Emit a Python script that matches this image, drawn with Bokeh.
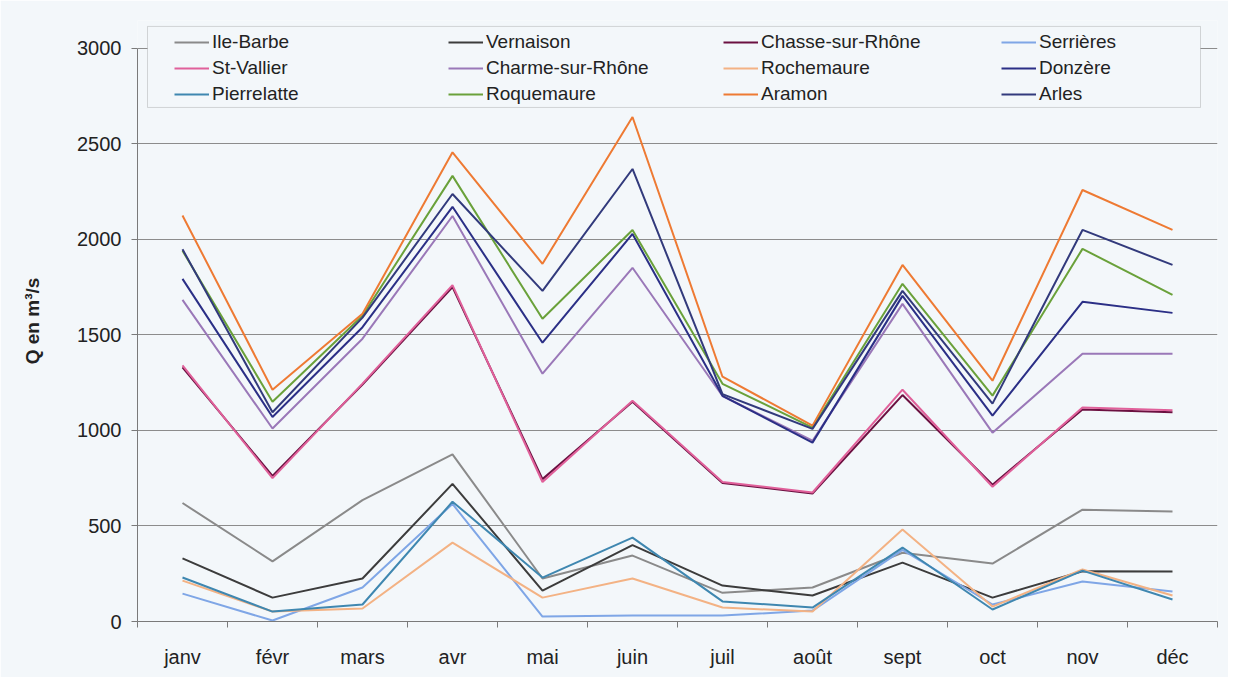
from bokeh.plotting import figure
from bokeh.models import Range1d, FixedTicker, Legend, LegendItem, BoxAnnotation
from bokeh.embed import file_html
from bokeh.resources import INLINE

months = ["janv", "févr", "mars", "avr", "mai", "juin", "juil", "août", "sept", "oct", "nov", "déc"]

ile_barbe   = [620, 315, 635, 875, 225, 345, 150, 178, 360, 303, 585, 575]
vernaison   = [330, 125, 225, 720, 162, 400, 188, 136, 308, 125, 263, 261]
chasse      = [1330, 762, 1240, 1750, 745, 1150, 725, 670, 1185, 716, 1110, 1095]
serrieres   = [146, 5, 178, 615, 26, 31, 31, 57, 375, 89, 209, 157]
st_vallier  = [1340, 750, 1245, 1760, 730, 1155, 730, 675, 1213, 705, 1120, 1105]
charme      = [1683, 1010, 1480, 2122, 1297, 1851, 1180, 946, 1662, 988, 1401, 1401]
rochemaure  = [214, 52, 68, 413, 125, 225, 73, 52, 481, 78, 272, 136]
donzere     = [1793, 1070, 1540, 2170, 1459, 2028, 1181, 936, 1704, 1077, 1673, 1615]
pierrelatte = [230, 52, 89, 627, 230, 439, 105, 73, 387, 63, 266, 115]
roquemaure  = [1940, 1150, 1600, 2332, 1584, 2049, 1244, 1015, 1767, 1182, 1950, 1709]
aramon      = [2125, 1213, 1610, 2455, 1872, 2640, 1281, 1025, 1866, 1260, 2258, 2049]
arles       = [1948, 1095, 1590, 2237, 1730, 2368, 1190, 1008, 1730, 1140, 2049, 1866]

series = [
    ("Ile-Barbe", ile_barbe, "#8a8a8a"),
    ("Vernaison", vernaison, "#3c3c3c"),
    ("Chasse-sur-Rhône", chasse, "#6b1040"),
    ("Serrières", serrieres, "#7fa6e6"),
    ("St-Vallier", st_vallier, "#e0609a"),
    ("Charme-sur-Rhône", charme, "#9a78b8"),
    ("Rochemaure", rochemaure, "#f3b284"),
    ("Donzère", donzere, "#2b2f86"),
    ("Pierrelatte", pierrelatte, "#3f87b0"),
    ("Roquemaure", roquemaure, "#6aa13a"),
    ("Aramon", aramon, "#ee7a33"),
    ("Arles", arles, "#323a7c"),
]

y_ticks = [0, 500, 1000, 1500, 2000, 2500, 3000]
BG = "#f3f7fa"
FONT = "Liberation Sans"

x = [i + 0.5 for i in range(len(months))]

p = figure(width=1228, height=677, output_backend="svg", toolbar_location=None,
           x_range=Range1d(0, 12), y_range=Range1d(0, 3145),
           min_border_left=137, min_border_right=11, min_border_top=20, min_border_bottom=56)
p.background_fill_color = BG
p.border_fill_color = BG
p.outline_line_color = None

renderers = {}
for name, vals, color in series:
    renderers[name] = p.line(x, vals, line_color=color, line_width=2)

# axes
p.yaxis.ticker = FixedTicker(ticks=y_ticks)
p.yaxis.bounds = (0, 3000)
p.yaxis.axis_line_color = "#7a7a7a"
p.yaxis.major_tick_line_color = "#7a7a7a"
p.yaxis.major_tick_out = 6
p.yaxis.major_tick_in = 0
p.yaxis.minor_tick_line_color = None
p.yaxis.major_label_text_font = FONT
p.yaxis.major_label_text_font_size = "20px"
p.yaxis.major_label_text_color = "#222222"
p.yaxis.major_label_standoff = 10
p.yaxis.axis_label = "Q en m³/s"
p.yaxis.axis_label_text_font = FONT
p.yaxis.axis_label_text_font_style = "bold"
p.yaxis.axis_label_text_font_size = "19px"
p.yaxis.axis_label_text_color = "#222222"
p.yaxis.axis_label_standoff = 31

p.xaxis.ticker = FixedTicker(ticks=x, minor_ticks=list(range(13)))
p.xaxis.major_label_overrides = {xi: m for xi, m in zip(x, months)}
p.xaxis.axis_line_color = "#7a7a7a"
p.xaxis.major_tick_line_color = None
p.xaxis.major_tick_out = 0
p.xaxis.major_tick_in = 0
p.xaxis.minor_tick_line_color = "#7a7a7a"
p.xaxis.minor_tick_out = 6
p.xaxis.minor_tick_in = 0
p.xaxis.major_label_text_font = FONT
p.xaxis.major_label_text_font_size = "20px"
p.xaxis.major_label_text_color = "#222222"
p.xaxis.major_label_standoff = 18

p.xgrid.visible = False
p.ygrid.ticker = FixedTicker(ticks=y_ticks)
p.ygrid.grid_line_color = "#8c8c8c"
p.ygrid.grid_line_width = 1

# legend frame
box = BoxAnnotation(left=10 / 90, right=1063 / 90, bottom=2690, top=3114,
                    fill_color=BG, fill_alpha=1, line_color="#808080", line_width=1)
p.add_layout(box)

columns = [
    ["Ile-Barbe", "St-Vallier", "Pierrelatte"],
    ["Vernaison", "Charme-sur-Rhône", "Roquemaure"],
    ["Chasse-sur-Rhône", "Rochemaure", "Aramon"],
    ["Serrières", "Donzère", "Arles"],
]
col_x = [37, 311, 586, 864]
for c, names in enumerate(columns):
    items = [LegendItem(label=n, renderers=[renderers[n]]) for n in names]
    leg = Legend(items=items, location=(col_x[c], 516), orientation="vertical",
                 glyph_width=35, glyph_height=20, label_height=20, label_standoff=3,
                 spacing=4, padding=0, margin=0, border_line_color=None,
                 background_fill_alpha=0, label_text_font=FONT,
                 label_text_font_size="19px", label_text_color="#222222")
    p.add_layout(leg, "center")

open("out.html", "w").write(file_html(p, INLINE))
